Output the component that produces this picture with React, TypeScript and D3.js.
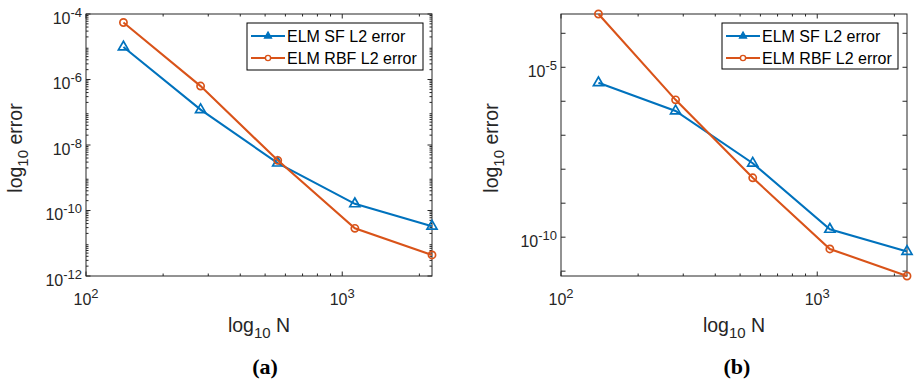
// ErrorConvergence.tsx
import React, { useEffect, useRef } from "react";
import * as d3 from "d3";

// number of nodes (x values, shared by both panels)
const nodes = [140, 280, 560, 1120, 2240];

// panel (a)
const sfErrA = [9.8e-6, 1.2e-7, 2.8e-9, 1.6e-10, 3.3e-11];
const rbfErrA = [5.5e-5, 6.3e-7, 3.4e-9, 2.85e-11, 4.4e-12];

// panel (b)
const sfErrB = [3.5e-6, 5.2e-7, 1.5e-8, 1.7e-10, 3.8e-11];
const rbfErrB = [3.7e-4, 1.1e-6, 5.6e-9, 4.5e-11, 7.2e-12];

const seriesNames = ["ELM SF L2 error", "ELM RBF L2 error"];
const seriesColors = ["#0072BD", "#D95319"];

// tick exponents
const xTickExp = [2, 3];
const yTickExpA = [-12, -10, -8, -6, -4];
const yLabelExpA = [-12, -10, -8, -6, -4];
const yTickExpB = [-11, -10, -9, -8, -7, -6, -5, -4];
const yLabelExpB = [-10, -5];

const FONT = "'Liberation Sans', Arial, sans-serif";
const AXIS = "#262626";

const App = () => {
  const ref = useRef(null);

  useEffect(() => {
    document.body.style.margin = "0";
    const root = d3.select(ref.current);
    root.selectAll("*").remove();

    const panels = [
      {
        left: 86, right: 432, top: 14, bottom: 276,
        sf: sfErrA, rbf: rbfErrA,
        yDomain: [1e-12, 1e-4],
        yTicks: yTickExpA, yLabels: yLabelExpA, yMinor: true,
        legend: { x: 247, y: 23, w: 176, h: 47 },
        caption: "(a)", capX: 265, yLabX: 22,
      },
      {
        left: 561, right: 907, top: 14, bottom: 276,
        sf: sfErrB, rbf: rbfErrB,
        yDomain: d3.extent([...sfErrB, ...rbfErrB]),
        yTicks: yTickExpB, yLabels: yLabelExpB, yMinor: false,
        legend: { x: 722, y: 23, w: 176, h: 46 },
        caption: "(b)", capX: 737, yLabX: 498,
      },
    ];

    panels.forEach(p => {
      const g = root.append("g");

      const x = d3.scaleLog().domain([100, d3.max(nodes)]).range([p.left, p.right]);
      const y = d3.scaleLog().domain(p.yDomain).range([p.bottom, p.top]);
      const [ylo, yhi] = y.domain();

      // box
      g.append("rect")
        .attr("x", p.left).attr("y", p.top)
        .attr("width", p.right - p.left).attr("height", p.bottom - p.top)
        .attr("fill", "#fff").attr("stroke", AXIS).attr("stroke-width", 1);

      // x ticks (major + minor), bottom and top, inward
      const xMajor = xTickExp.map(e => Math.pow(10, e));
      const xMinor = [];
      xTickExp.forEach(e => {
        for (let k = 2; k <= 9; k++) {
          const v = k * Math.pow(10, e);
          if (v <= x.domain()[1]) xMinor.push(v);
        }
      });
      const drawXTick = (v, len) => {
        const px = x(v);
        g.append("line").attr("x1", px).attr("x2", px)
          .attr("y1", p.bottom).attr("y2", p.bottom - len)
          .attr("stroke", AXIS).attr("stroke-width", 1);
        g.append("line").attr("x1", px).attr("x2", px)
          .attr("y1", p.top).attr("y2", p.top + len)
          .attr("stroke", AXIS).attr("stroke-width", 1);
      };
      xMajor.forEach(v => drawXTick(v, 4.5));
      xMinor.forEach(v => drawXTick(v, 2.5));

      // y ticks, left and right
      const drawYTick = (v, len) => {
        const py = y(v);
        g.append("line").attr("x1", p.left).attr("x2", p.left + len)
          .attr("y1", py).attr("y2", py)
          .attr("stroke", AXIS).attr("stroke-width", 1);
        g.append("line").attr("x1", p.right).attr("x2", p.right - len)
          .attr("y1", py).attr("y2", py)
          .attr("stroke", AXIS).attr("stroke-width", 1);
      };
      p.yTicks.forEach(e => drawYTick(Math.pow(10, e), 4.5));
      if (p.yMinor) {
        for (let e = -12; e < -4; e++) {
          for (let k = 2; k <= 9; k++) {
            const v = k * Math.pow(10, e);
            if (v > ylo && v < yhi) drawYTick(v, 2.5);
          }
        }
      }

      // x tick labels
      xTickExp.forEach(e => {
        const t = g.append("text")
          .attr("x", x(Math.pow(10, e))).attr("y", p.bottom + 29)
          .attr("text-anchor", "middle")
          .attr("font-family", FONT).attr("font-size", 16).attr("fill", AXIS);
        t.append("tspan").text("10");
        t.append("tspan").attr("dy", -7).attr("font-size", 13).text(e);
      });

      // y tick labels
      p.yLabels.forEach(e => {
        const t = g.append("text")
          .attr("x", p.left - 4).attr("y", y(Math.pow(10, e)) + 9.5)
          .attr("text-anchor", "end")
          .attr("font-family", FONT).attr("font-size", 16).attr("fill", AXIS);
        t.append("tspan").text("10");
        t.append("tspan").attr("dy", -7).attr("font-size", 13).text(e);
      });

      // x axis label
      const xl = g.append("text")
        .attr("x", (p.left + p.right) / 2).attr("y", 332)
        .attr("text-anchor", "middle")
        .attr("font-family", FONT).attr("font-size", 19.5).attr("fill", AXIS);
      xl.append("tspan").text("log");
      xl.append("tspan").attr("dy", 6).attr("font-size", 15).text("10");
      xl.append("tspan").attr("dy", -6).text(" N");

      // y axis label
      const yl = g.append("text")
        .attr("transform", `translate(${p.yLabX},${(p.top + p.bottom) / 2 + 3}) rotate(-90)`)
        .attr("text-anchor", "middle")
        .attr("font-family", FONT).attr("font-size", 19.5).attr("fill", AXIS);
      yl.append("tspan").text("log");
      yl.append("tspan").attr("dy", 6).attr("font-size", 15).text("10");
      yl.append("tspan").attr("dy", -6).text(" error");

      // data lines
      const line = d3.line().x(d => x(d[0])).y(d => y(d[1]));
      const tri = d3.symbol().type(d3.symbolTriangle).size(44);
      [p.sf, p.rbf].forEach((vals, i) => {
        const pts = nodes.map((n, j) => [n, vals[j]]);
        g.append("path").datum(pts)
          .attr("d", line).attr("fill", "none")
          .attr("stroke", seriesColors[i]).attr("stroke-width", 2.1);
        pts.forEach(d => {
          if (i === 0) {
            g.append("path").attr("d", tri())
              .attr("transform", `translate(${x(d[0])},${y(d[1])})`)
              .attr("fill", "none").attr("stroke", seriesColors[i]).attr("stroke-width", 1.7);
          } else {
            g.append("circle").attr("cx", x(d[0])).attr("cy", y(d[1])).attr("r", 3.6)
              .attr("fill", "none").attr("stroke", seriesColors[i]).attr("stroke-width", 1.7);
          }
        });
      });

      // legend
      const L = p.legend;
      g.append("rect").attr("x", L.x).attr("y", L.y).attr("width", L.w).attr("height", L.h)
        .attr("fill", "#fff").attr("stroke", "#000").attr("stroke-width", 1);
      const smallTri = d3.symbol().type(d3.symbolTriangle).size(22);
      seriesNames.forEach((name, i) => {
        const cy = L.y + 13 + i * 22;
        g.append("line").attr("x1", L.x + 4).attr("x2", L.x + 38)
          .attr("y1", cy).attr("y2", cy)
          .attr("stroke", seriesColors[i]).attr("stroke-width", 2);
        if (i === 0) {
          g.append("path").attr("d", smallTri())
            .attr("transform", `translate(${L.x + 21},${cy})`)
            .attr("fill", seriesColors[i]).attr("stroke", seriesColors[i]).attr("stroke-width", 1.2);
        } else {
          g.append("circle").attr("cx", L.x + 21).attr("cy", cy).attr("r", 2.6)
            .attr("fill", "#fff").attr("stroke", seriesColors[i]).attr("stroke-width", 1.4);
        }
        g.append("text").attr("x", L.x + 40).attr("y", cy + 5.5)
          .attr("font-family", FONT).attr("font-size", 16).attr("fill", "#000")
          .text(name);
      });

      // caption
      g.append("text").attr("x", p.capX).attr("y", 374)
        .attr("text-anchor", "middle")
        .attr("font-family", "'Liberation Serif', 'Times New Roman', serif")
        .attr("font-weight", "bold").attr("font-size", 22).attr("fill", "#000")
        .text(p.caption);
    });
  }, []);

  return <svg ref={ref} width={914} height={382} style={{ display: "block" }}></svg>;
};

export default App;
